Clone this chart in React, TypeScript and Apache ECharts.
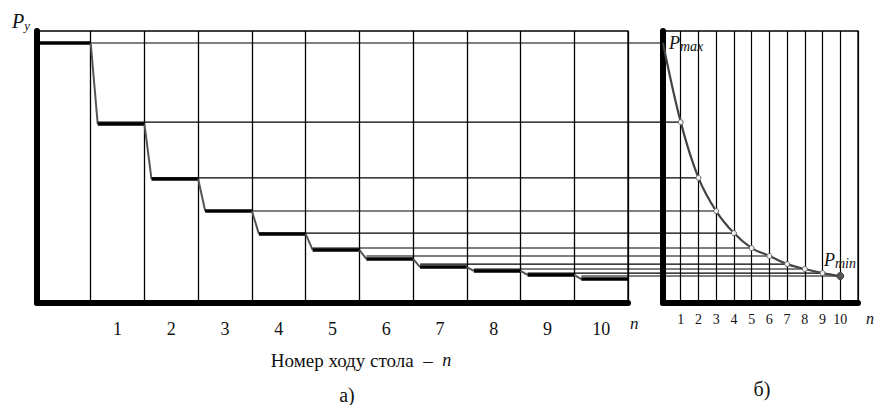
import React, { useEffect, useRef } from "react";
import * as echarts from "echarts";

// Pass numbers (cells of the left chart / points of the right chart)
const passNumbers = [0, 1, 2, 3, 4, 5, 6, 7, 8, 9, 10];
// Tick labels
const leftTickLabels = ["1", "2", "3", "4", "5", "6", "7", "8", "9", "10"];
const rightTickLabels = ["1", "2", "3", "4", "5", "6", "7", "8", "9", "10"];
// Force level (relative units, 0..100) for each pass — stepped chart a)
const stepLevels = [95.6, 65.8, 45.6, 33.8, 25.4, 19.5, 16.2, 13.2, 11.8, 10.3, 8.8];
// Force level on the curve of chart б)
const curveLevels = [95.6, 66.5, 46.0, 33.8, 25.7, 20.2, 17.3, 14.3, 12.5, 11.0, 9.9];

const SERIF = '"Liberation Serif", "Times New Roman", serif';
const DROP = 0.13; // horizontal extent of the slanted drop, in cell units

export default function App() {
  const ref = useRef<HTMLDivElement>(null);

  useEffect(() => {
    document.body.style.margin = "0";
    if (!ref.current) return;
    const chart = echarts.init(ref.current, null, { renderer: "svg" });

    const stepData = passNumbers.map((k, i) => [
      k,
      stepLevels[i],
      i === 0 ? stepLevels[0] : stepLevels[i - 1],
    ]);

    const curveData = passNumbers.map((k, i) => {
      const item: any = { value: [k, curveLevels[i]] };
      if (i === 0) item.symbol = "none";
      if (i === passNumbers.length - 1) {
        item.symbolSize = 7;
        item.itemStyle = { color: "#555", borderColor: "#444" };
      }
      return item;
    });

    const option: any = {
      animation: false,
      backgroundColor: "#fff",
      grid: [
        {
          left: 37,
          right: 249,
          top: 31,
          bottom: 102,
          show: true,
          borderColor: "#000",
          borderWidth: 1.3,
        },
        {
          left: 663,
          right: 19,
          top: 31,
          bottom: 102,
          show: true,
          borderColor: "#000",
          borderWidth: 1.3,
        },
      ],
      xAxis: [
        {
          gridIndex: 0,
          type: "value",
          min: 0,
          max: 11,
          interval: 1,
          axisLine: { lineStyle: { color: "#000", width: 6 } },
          axisTick: { show: false },
          axisLabel: { show: false },
          splitLine: { show: true, lineStyle: { color: "#000", width: 1.3 } },
        },
        {
          gridIndex: 0,
          type: "category",
          position: "bottom",
          data: ["", ...leftTickLabels],
          axisLine: { show: false },
          axisTick: { show: false },
          splitLine: { show: false },
          axisLabel: {
            fontFamily: SERIF,
            fontSize: 18,
            color: "#111",
            margin: 17,
          },
          name: "n",
          nameLocation: "end",
          nameGap: 2,
          nameTextStyle: {
            fontFamily: SERIF,
            fontStyle: "italic",
            fontSize: 17,
            color: "#111",
            verticalAlign: "top",
            padding: [12, 0, 0, 0],
          },
        },
        {
          gridIndex: 1,
          type: "value",
          min: 0,
          max: 11,
          interval: 1,
          axisLine: { lineStyle: { color: "#000", width: 6 } },
          axisTick: { show: false },
          splitLine: { show: true, lineStyle: { color: "#000", width: 1.2 } },
          axisLabel: {
            fontFamily: SERIF,
            fontSize: 14,
            color: "#111",
            margin: 9,
            formatter: (v: number) =>
              v >= 1 && v <= rightTickLabels.length ? rightTickLabels[v - 1] : "",
          },
          name: "n",
          nameLocation: "end",
          nameGap: 8,
          nameTextStyle: {
            fontFamily: SERIF,
            fontStyle: "italic",
            fontSize: 16,
            color: "#111",
            verticalAlign: "top",
            padding: [7, 0, 0, 0],
          },
        },
      ],
      yAxis: [
        {
          gridIndex: 0,
          type: "value",
          min: 0,
          max: 100,
          axisLine: { show: true, lineStyle: { color: "#000", width: 6 } },
          axisTick: { show: false },
          axisLabel: { show: false },
          splitLine: { show: false },
        },
        {
          gridIndex: 1,
          type: "value",
          min: 0,
          max: 100,
          axisLine: { show: true, lineStyle: { color: "#000", width: 6 } },
          axisTick: { show: false },
          axisLabel: { show: false },
          splitLine: { show: false },
        },
      ],
      series: [
        {
          type: "custom",
          xAxisIndex: 0,
          yAxisIndex: 0,
          data: stepData,
          encode: { x: 0, y: 1 },
          z: 5,
          renderItem: (params: any, api: any) => {
            const k = api.value(0);
            const v = api.value(1);
            const prev = api.value(2);
            const s = k === 0 ? 0 : DROP;
            const a = api.coord([k, prev]);
            const b = api.coord([k + s, v]);
            const c = api.coord([k + 1, v]);
            return {
              type: "group",
              children: [
                {
                  type: "line",
                  shape: { x1: a[0], y1: a[1], x2: b[0], y2: b[1] },
                  style: { stroke: "#555", lineWidth: 2 },
                },
                {
                  type: "line",
                  shape: { x1: b[0], y1: b[1], x2: c[0], y2: c[1] },
                  style: { stroke: "#000", lineWidth: 3.5 },
                },
              ],
            };
          },
        },
        {
          type: "line",
          xAxisIndex: 2,
          yAxisIndex: 1,
          data: curveData,
          smooth: 0.35,
          z: 5,
          symbol: "circle",
          symbolSize: 5,
          lineStyle: { color: "#444", width: 2.2 },
          itemStyle: { color: "#f2f2f2", borderColor: "#666", borderWidth: 1 },
        },
      ],
    };

    chart.setOption(option);

    const projLines = passNumbers.map((k, i) => {
      const start = chart.convertToPixel({ xAxisIndex: 0, yAxisIndex: 0 } as any, [
        i === 0 ? 0 : k + DROP,
        curveLevels[i],
      ]) as number[];
      const end = chart.convertToPixel({ seriesIndex: 1 } as any, [k, curveLevels[i]]) as number[];
      return {
        type: "line",
        z: 1,
        shape: { x1: start[0], y1: start[1], x2: end[0], y2: end[1] },
        style: { stroke: "#000", lineWidth: 1.1 },
      };
    });

    const richP = (size: number) => ({
      fontFamily: SERIF,
      fontStyle: "italic",
      fontSize: size,
      fill: "#111",
    });

    const texts = [
      {
        type: "text",
        x: 12,
        y: 10,
        z: 10,
        style: {
          text: "{p|P}{s|y}",
          rich: {
            p: richP(20),
            s: { ...richP(13), padding: [9, 0, 0, 0] },
          },
        },
      },
      {
        type: "text",
        x: 669,
        y: 32,
        z: 10,
        style: {
          text: "{p|P}{s|max}",
          rich: {
            p: richP(18),
            s: { ...richP(14), padding: [7, 0, 0, 0] },
          },
        },
      },
      {
        type: "text",
        x: 824,
        y: 249,
        z: 10,
        style: {
          text: "{p|P}{s|min}",
          rich: {
            p: richP(18),
            s: { ...richP(14), padding: [7, 0, 0, 0] },
          },
        },
      },
      {
        type: "text",
        x: 361,
        y: 360,
        z: 10,
        style: {
          text: "{a|Номер ходу стола  –  }{b|n}",
          align: "center",
          verticalAlign: "middle",
          rich: {
            a: { fontFamily: SERIF, fontSize: 19, fill: "#111" },
            b: richP(18),
          },
        },
      },
      {
        type: "text",
        x: 347,
        y: 395,
        z: 10,
        style: {
          text: "а)",
          align: "center",
          verticalAlign: "middle",
          fontFamily: SERIF,
          fontSize: 20,
          fill: "#111",
        },
      },
      {
        type: "text",
        x: 762,
        y: 389,
        z: 10,
        style: {
          text: "б)",
          align: "center",
          verticalAlign: "middle",
          fontFamily: SERIF,
          fontSize: 20,
          fill: "#111",
        },
      },
    ];

    chart.setOption({ graphic: [...projLines, ...texts] });

    return () => chart.dispose();
  }, []);

  return <div ref={ref} style={{ width: 877, height: 405 }} />;
}
